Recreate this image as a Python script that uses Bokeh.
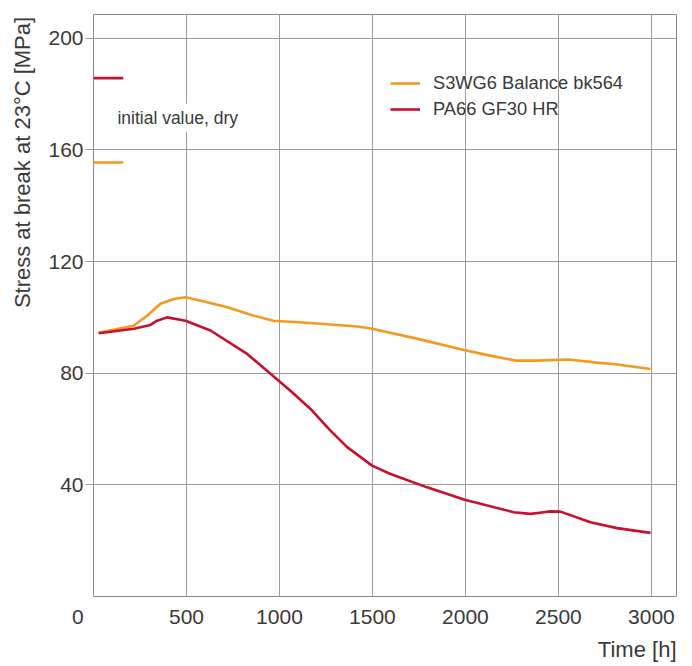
from bokeh.plotting import figure
from bokeh.models import Range1d, FixedTicker, Label, Legend, LegendItem, Title
from bokeh.embed import file_html
from bokeh.resources import INLINE

# ---- data ----
time_s3wg6 = [25, 215, 288, 360, 432, 495, 611, 720, 862, 968, 1184, 1418, 1498,
              1750, 1991, 2134, 2269, 2385, 2555, 2708, 2797, 2995]
stress_s3wg6 = [94.5, 97.0, 100.6, 104.9, 106.6, 107.2, 105.4, 103.6, 100.6, 98.8, 97.9,
                96.7, 95.9, 92.2, 88.3, 86.3, 84.5, 84.5, 84.9, 83.8, 83.3, 81.5]

time_pa66 = [29, 217, 306, 342, 396, 495, 629, 826, 996, 1077, 1167, 1274, 1364, 1498,
             1597, 1794, 1996, 2260, 2349, 2400, 2457, 2511, 2672, 2815, 2995]
stress_pa66 = [94.3, 95.9, 97.3, 98.8, 100.0, 98.8, 95.3, 86.9, 77.3, 72.6, 67.2, 59.4,
               53.5, 46.9, 43.9, 39.1, 34.7, 30.2, 29.6, 30.0, 30.5, 30.4, 26.6, 24.5, 22.8]

initial_dry_s3wg6 = 155.5
initial_dry_pa66 = 185.7
initial_span = [0, 160]

x_ticks = [0, 500, 1000, 1500, 2000, 2500, 3000]
x_grid = [500, 1000, 1500, 2000, 2500, 3000]
y_ticks = [40, 80, 120, 160, 200]

series_names = ["S3WG6 Balance bk564", "PA66 GF30 HR"]
y_title = "Stress at break at 23\u00b0C [MPa]"
x_title = "Time [h]"
ORANGE = "#f39a1e"
RED = "#c8102e"
GRID = "#9b9b9b"
TEXT = "#3a3a3a"
FONT = "Liberation Sans"

p = figure(width=692, height=666, output_backend="svg", toolbar_location=None,
           x_range=Range1d(0, 3135), y_range=Range1d(0, 208.5),
           min_border_left=93, min_border_right=16, min_border_top=14, min_border_bottom=70)
p.background_fill_color = "white"
p.border_fill_color = "white"
p.outline_line_color = "#8a8a8a"
p.outline_line_width = 1

# axes
p.xaxis.ticker = FixedTicker(ticks=x_ticks)
p.xaxis.major_label_overrides = {0: "0\u2003\u2005\u2005"}
p.yaxis.ticker = FixedTicker(ticks=y_ticks)
p.xgrid.ticker = FixedTicker(ticks=x_grid)
p.ygrid.ticker = FixedTicker(ticks=y_ticks)
p.grid.grid_line_color = GRID
p.grid.grid_line_width = 1

for ax in (p.xaxis, p.yaxis):
    ax.axis_line_color = None
    ax.minor_tick_line_color = None
    ax.major_label_text_font = FONT
    ax.major_label_text_font_size = "21px"
    ax.major_label_text_color = TEXT

p.xaxis.major_tick_line_color = None
p.xaxis.major_tick_out = 0
p.xaxis.major_tick_in = 0
p.xaxis.major_label_standoff = 8
p.yaxis.major_tick_line_color = GRID
p.yaxis.major_tick_out = 8
p.yaxis.major_tick_in = 0
p.yaxis.major_label_standoff = 2

# y title: leading em spaces push the visible text toward the top, as in the reference
p.yaxis.axis_label = "\u2003" * 13 + y_title
p.yaxis.axis_label_text_font = FONT
p.yaxis.axis_label_text_font_size = "22px"
p.yaxis.axis_label_text_font_style = "normal"
p.yaxis.axis_label_text_color = TEXT
p.yaxis.axis_label_standoff = 10

p.add_layout(Title(text=x_title, align="right", text_font=FONT, text_font_size="22px",
                   text_font_style="normal", text_color=TEXT, standoff=9), "below")

# curves
r1 = p.line(time_s3wg6, stress_s3wg6, line_color=ORANGE, line_width=2.6, line_join="round")
r2 = p.line(time_pa66, stress_pa66, line_color=RED, line_width=2.6, line_join="round")

# initial dry values
p.segment(x0=[initial_span[0]], x1=[initial_span[1]], y0=[initial_dry_pa66], y1=[initial_dry_pa66],
          line_color=RED, line_width=2.6)
p.segment(x0=[initial_span[0]], x1=[initial_span[1]], y0=[initial_dry_s3wg6], y1=[initial_dry_s3wg6],
          line_color=ORANGE, line_width=2.6)

p.add_layout(Label(x=107, y=171.5, text="initial value, dry", text_font=FONT,
                   text_font_size="17.5px", text_color=TEXT, text_baseline="middle",
                   background_fill_color="white", padding=4))

# legend
legend = Legend(items=[LegendItem(label=series_names[0], renderers=[r1]),
                       LegendItem(label=series_names[1], renderers=[r2])],
                location=(297, 476), glyph_width=30, glyph_height=22, label_height=22,
                label_standoff=13, spacing=4, padding=0, margin=0,
                border_line_color=None, background_fill_alpha=0,
                label_text_font=FONT, label_text_font_size="18.3px", label_text_color=TEXT)
p.add_layout(legend)

open("out.html", "w").write(file_html(p, INLINE))
